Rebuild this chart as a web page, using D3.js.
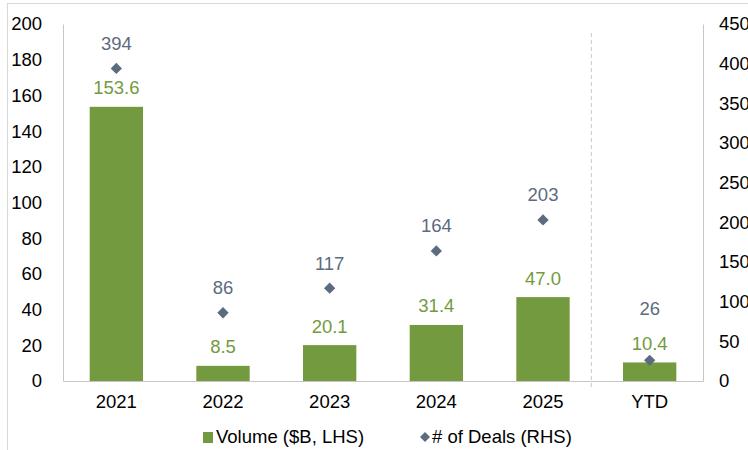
<!DOCTYPE html>
<html>
<head>
<meta charset="utf-8">
<script src="https://cdn.jsdelivr.net/npm/d3@7"></script>
<style>
  body { margin: 0; background: #fff; }
  svg { display: block; font-family: "Liberation Sans", Arial, sans-serif; }
</style>
</head>
<body>
<svg id="chart" width="748" height="450"></svg>
<script>
// chart data
const categories = ['2021', '2022', '2023', '2024', '2025', 'YTD']
const volume = [153.6, 8.5, 20.1, 31.4, 47.0, 10.4]
const deals = [394, 86, 117, 164, 203, 26]
const leftTicks = [0, 20, 40, 60, 80, 100, 120, 140, 160, 180, 200]
const rightTicks = [0, 50, 100, 150, 200, 250, 300, 350, 400, 450]
const legendLabels = ['Volume ($B, LHS)', '# of Deals (RHS)']

const green = '#739a3e'
const slate = '#5d6b7f'
const fs = 18.5
const margin = { left: 63, right: 45, top: 24, bottom: 69 }
const width = 748 - margin.left - margin.right
const height = 450 - margin.top - margin.bottom

const svg = d3.select('#chart')

// outer frame (cropped on right and bottom)
svg.append('rect')
  .attr('x', 7.5).attr('y', 3.5)
  .attr('width', 800).attr('height', 500)
  .attr('fill', 'none').attr('stroke', '#d9d9d9')

const g = svg.append('g').attr('transform', `translate(${margin.left},${margin.top})`)

const x = d3.scaleBand().domain(categories).range([0, width]).paddingInner(0.5).paddingOuter(0.25)
const yL = d3.scaleLinear().domain([0, 200]).range([height, 0])
const yR = d3.scaleLinear().domain([0, 450]).range([height, 0])

// axes
const leftAxis = d3.axisLeft(yL).tickValues(leftTicks).tickSize(0).tickPadding(21)
g.append('g').call(leftAxis)
  .call(a => a.select('.domain').attr('stroke', '#c6c6c6'))
  .selectAll('text').attr('font-size', fs).attr('fill', '#000').attr('font-family', 'inherit')

const rightAxis = d3.axisRight(yR).tickValues(rightTicks).tickSize(0).tickPadding(16)
g.append('g').attr('transform', `translate(${width},0)`).call(rightAxis)
  .call(a => a.select('.domain').attr('stroke', '#c6c6c6'))
  .selectAll('text').attr('font-size', fs).attr('fill', '#000').attr('font-family', 'inherit')

const bottomAxis = d3.axisBottom(x).tickSize(0).tickPadding(14)
g.append('g').attr('transform', `translate(0,${height})`).call(bottomAxis)
  .call(a => a.select('.domain').attr('stroke', '#c6c6c6'))
  .selectAll('text').attr('font-size', fs).attr('fill', '#000').attr('font-family', 'inherit')

// dashed separator between 2025 and YTD
const sepX = (x('2025') + x.bandwidth() + x('YTD')) / 2 - 5
g.append('line')
  .attr('x1', sepX).attr('x2', sepX)
  .attr('y1', 9).attr('y2', height + 6)
  .attr('stroke', '#c8c8c8').attr('stroke-dasharray', '4,3')

// bars
g.selectAll('.bar')
  .data(volume)
  .enter()
  .append('rect')
  .attr('class', 'bar')
  .attr('x', (d, i) => x(categories[i]))
  .attr('y', d => yL(d))
  .attr('width', x.bandwidth())
  .attr('height', d => height - yL(d))
  .attr('fill', green)

// diamonds
const diamond = d3.symbol().type(d3.symbolSquare).size(64)
g.selectAll('.pt')
  .data(deals)
  .enter()
  .append('path')
  .attr('class', 'pt')
  .attr('d', diamond)
  .attr('transform', (d, i) => `translate(${x(categories[i]) + x.bandwidth() / 2},${yR(d)}) rotate(45)`)
  .attr('fill', slate)

// labels
const volLabelY = d => yL(d) - 19
g.selectAll('.vlab')
  .data(volume)
  .enter()
  .append('text')
  .attr('class', 'vlab')
  .attr('x', (d, i) => x(categories[i]) + x.bandwidth() / 2)
  .attr('y', d => volLabelY(d))
  .attr('dy', '0.35em')
  .attr('text-anchor', 'middle')
  .attr('font-size', fs)
  .attr('fill', green)
  .text(d => d.toFixed(1))

g.selectAll('.dlab')
  .data(deals)
  .enter()
  .append('text')
  .attr('class', 'dlab')
  .attr('x', (d, i) => x(categories[i]) + x.bandwidth() / 2)
  .attr('y', (d, i) => Math.min(yR(d) - 25, volLabelY(volume[i]) - 35))
  .attr('dy', '0.35em')
  .attr('text-anchor', 'middle')
  .attr('font-size', fs)
  .attr('fill', slate)
  .text(d => d)

// legend
const legend = svg.append('g').attr('transform', 'translate(0,437)')
legend.append('rect').attr('x', 203).attr('y', -5).attr('width', 10).attr('height', 11).attr('fill', green)
legend.append('text').attr('x', 216).attr('dy', '0.35em').attr('font-size', fs).text(legendLabels[0])
legend.append('path').attr('d', d3.symbol().type(d3.symbolSquare).size(50))
  .attr('transform', 'translate(425,0) rotate(45)').attr('fill', slate)
legend.append('text').attr('x', 432).attr('dy', '0.35em').attr('font-size', fs).text(legendLabels[1])
</script>
</body>
</html>
